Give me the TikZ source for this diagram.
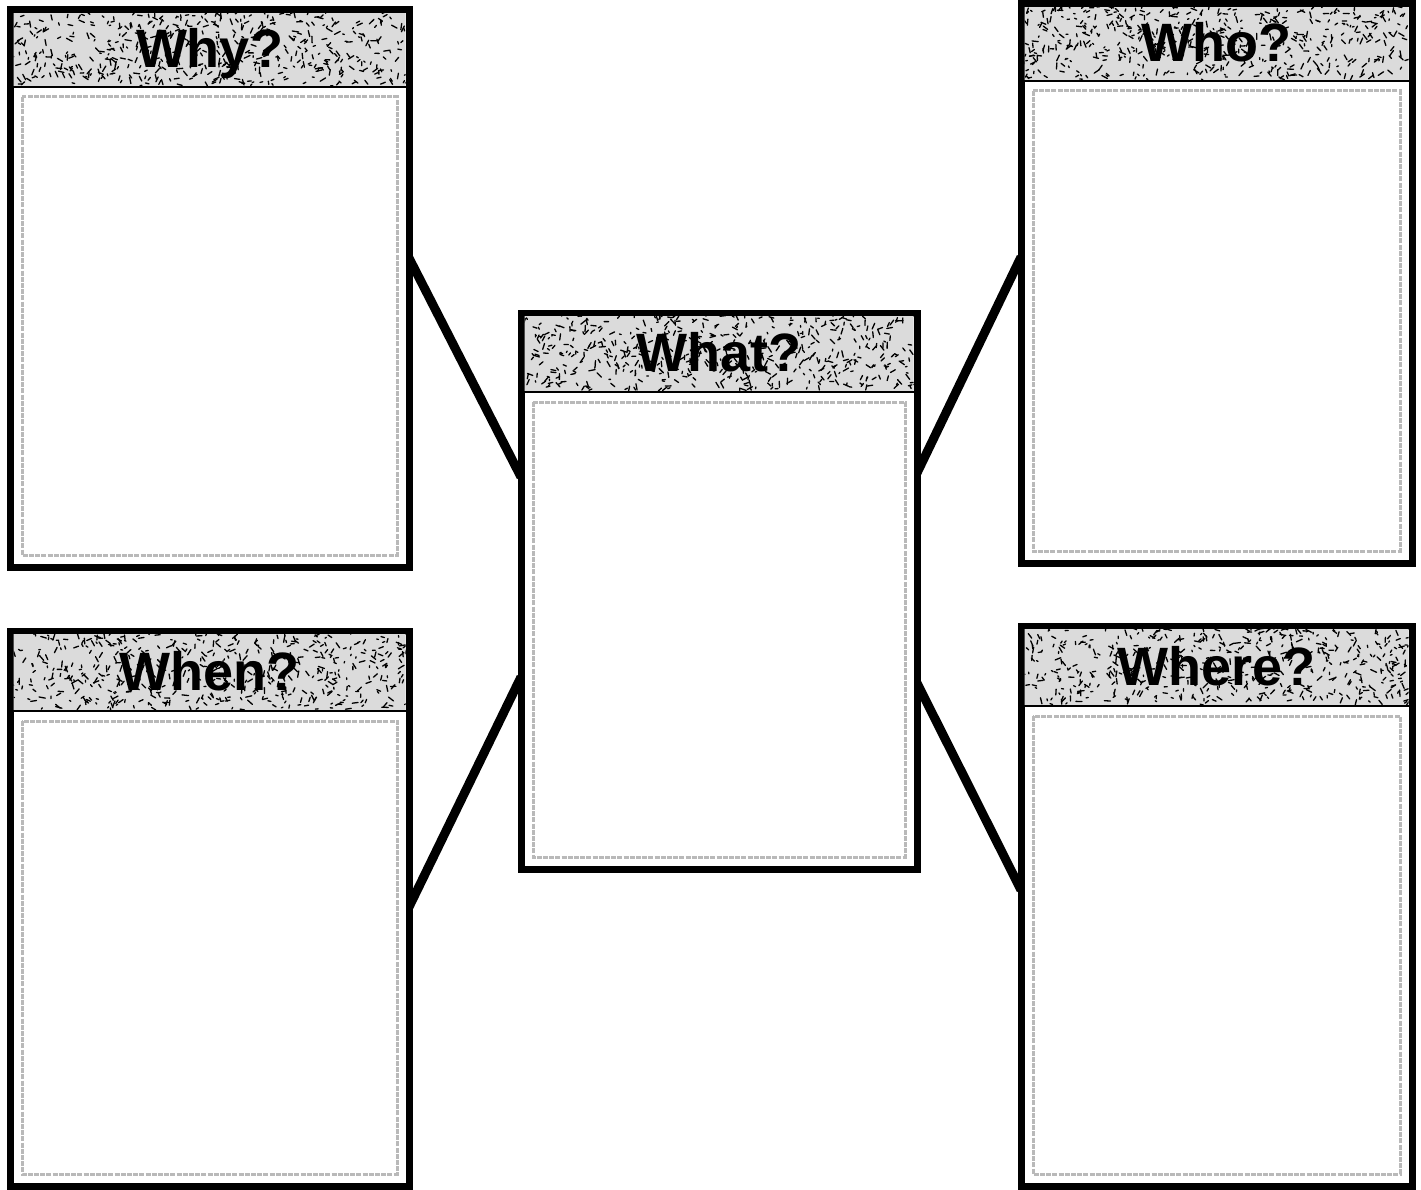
\documentclass[tikz,border=0pt]{standalone}
\usepackage{fontspec}
\setmainfont{Liberation Sans}
\usetikzlibrary{calc}
\pgfdeclarelayer{background}
\pgfsetlayers{background,main}

\tikzset{
  frame/.style={draw=black, line width=7pt, fill=white, outer sep=0pt, inner sep=0pt},
  headline/.style={draw=black, line width=2.5pt},
  innerframe/.style={draw=gray!55, line width=3pt, dash pattern=on 5pt off 1.2pt},
  link/.style={draw=black, line width=9pt},
  speck/.style={black, line width=1.3pt, line cap=round},
  headfill/.style={fill=gray!28},
  qlabel/.style={font=\fontsize{54}{60}\selectfont\bfseries, inner sep=0pt, anchor=base},
}

% #1 name, #2 x1, #3 y1, #4 x2, #5 y2, #6 header line y, #7 label
\newcommand{\qbox}[7]{%
  \node[frame, minimum width={#4pt-#2pt}, minimum height={#5pt-#3pt}, anchor=north west] (#1) at (#2,#3) {};
  \begin{scope}
    \clip (#2+3.5,#3+3.5) rectangle (#4-3.5,#6);
    \fill[headfill] (#2,#3) rectangle (#4,#6);
    \foreach \k in {1,...,520}{%
      \pgfmathsetmacro\xx{#2+3+rnd*(#4-#2-6)}%
      \pgfmathsetmacro\yy{#3+3+rnd*(#6-#3-4)}%
      \pgfmathsetmacro\aa{rnd*180}%
      \pgfmathsetmacro\ll{1.5+rnd*5}%
      \draw[speck] (\xx,\yy) -- ++(\aa:\ll pt);
    }
  \end{scope}
  \draw[headline] (#2,#6) -- (#4,#6);
  \draw[innerframe] (#2+12,#6+10) rectangle (#4-12,#5-12);
  \node[qlabel] (#1-label) at ({(#2+#4)/2},{(#3+#6)/2+19}) {#7};
}

\begin{document}
\begin{tikzpicture}[x=1pt,y=-1pt]
  \pgfmathsetseed{7}
  \useasboundingbox (0,0) rectangle (1421,1190);

  \qbox{why}{10}{10}{409}{567}{87}{Why?}
  \qbox{who}{1021}{4}{1412}{563}{81}{Who?}
  \qbox{what}{521}{313}{917}{869}{392}{What?}
  \qbox{when}{10}{631}{409}{1186}{711}{When?}
  \qbox{where}{1021}{626}{1412}{1186}{706}{Where?}

  \begin{pgfonlayer}{background}
    \fill[white] (0,0) rectangle (1421,1190);
    \draw[link] ($(why.north east)+(0,248)$) -- ($(what.north west)+(0,164)$);
    \draw[link] ($(who.north west)+(0,253)$) -- ($(what.north east)+(0,160)$);
    \draw[link] ($(when.north east)+(0,276)$) -- ($(what.north west)+(0,364)$);
    \draw[link] ($(where.north west)+(0,264)$) -- ($(what.north east)+(0,370)$);
  \end{pgfonlayer}
\end{tikzpicture}
\end{document}
